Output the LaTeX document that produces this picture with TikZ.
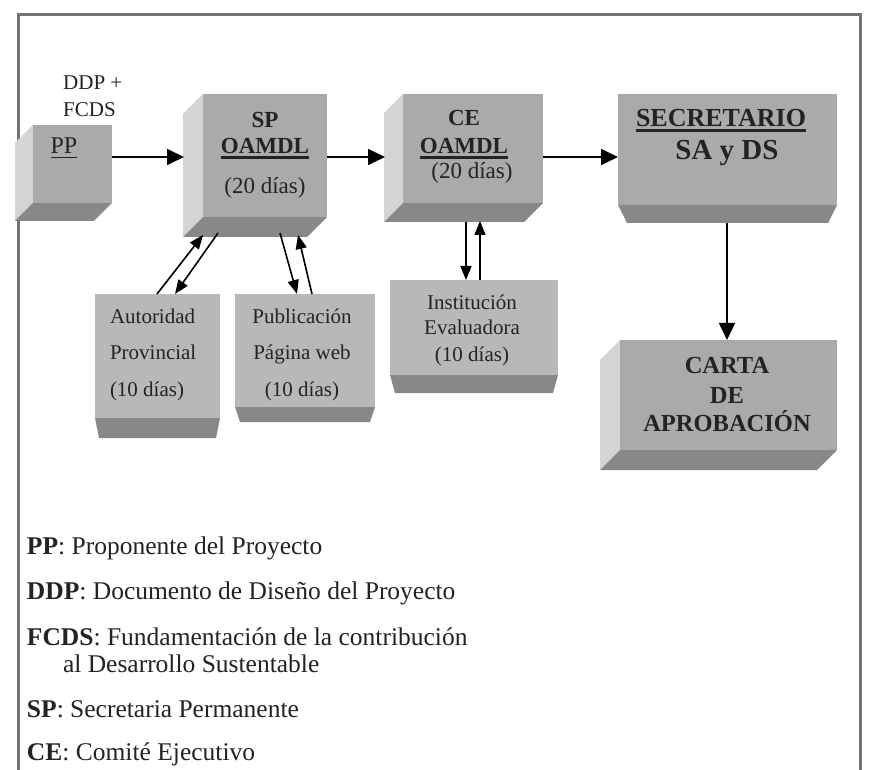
\documentclass[tikz,border=0pt]{standalone}
\usepackage{fontspec}
\setmainfont{Liberation Serif}
\usetikzlibrary{arrows.meta,calc}
\definecolor{frontc}{RGB}{170,170,170}
\definecolor{lowc}{RGB}{184,184,184}
\definecolor{sidec}{RGB}{212,212,212}
\definecolor{botc}{RGB}{136,136,136}
\definecolor{textc}{RGB}{35,35,35}
\definecolor{framec}{RGB}{115,115,115}
\newcommand\cubebox[7]{%
 \fill[sidec] (#2,#3) -- (#2-#6,#3+#6) -- (#2-#6,#5+#6) -- (#2,#5) -- cycle;
 \fill[botc] (#2,#5) -- (#4,#5) -- (#4-#6,#5+#6) -- (#2-#6,#5+#6) -- cycle;
 \node[face, fill=#7, minimum width={#4-#2}, minimum height={#5-#3}, anchor=north west] (#1) at (#2,#3) {};}
\newcommand\trapbox[8]{%
 \fill[botc] (#2,#5) -- (#4,#5) -- (#4-#7,#5+#6) -- (#2+#7,#5+#6) -- cycle;
 \node[face, fill=#8, minimum width={#4-#2}, minimum height={#5-#3}, anchor=north west] (#1) at (#2,#3) {};}
\tikzset{
 face/.style={inner sep=0, outer sep=0, draw=none},
 txt/.style={inner sep=0, outer sep=0, text=textc, text height=0.7em, text depth=0.2em, yshift=-5pt},
 boxtxt/.style={txt, font=\fontsize{23}{27}\selectfont},
 lowtxt/.style={txt, font=\fontsize{21}{25}\selectfont},
 leg/.style={txt, anchor=west, font=\fontsize{25.5}{30}\selectfont},
 ulline/.style={textc, line width=2.2pt},
 arr/.style={-{Triangle[length=17pt,width=16pt]}, line width=1.6pt, black},
 sarr/.style={-{Triangle[length=14pt,width=11pt]}, line width=1.6pt, black},
}
\begin{document}
\begin{tikzpicture}[x=1pt,y=-1pt]
\useasboundingbox (0,0) rectangle (871,770);
\fill[white] (0,0) rectangle (871,770);
\draw[framec, line width=3pt] (18,770) -- (18,15) -- (860,15) -- (860,770);
% boxes
\cubebox{pp}{33}{125}{112}{203}{18}{frontc}
\cubebox{sp}{203}{94}{327}{217}{20}{frontc}
\cubebox{ce}{403}{94}{543}{203}{19}{frontc}
\trapbox{sec}{618}{94}{837}{205}{18}{9}{frontc}
\cubebox{carta}{620}{340}{837}{450}{20}{frontc}
\trapbox{aut}{95}{294}{220}{418}{20}{4}{lowc}
\trapbox{pub}{235}{294}{375}{407}{15}{5}{lowc}
\trapbox{ins}{390}{280}{558}{375}{18}{5}{lowc}
% texts
\node[inner sep=0, text=textc, align=left, anchor=west, font=\fontsize{21}{27}\selectfont] (ddp) at (63,96) {DDP +\\FCDS};
\node[txt, font=\fontsize{24}{28}\selectfont] (ppt) at (64,146) {PP};
\draw[ulline, line width=1.6pt] ($(ppt.base west)+(0,4)$) -- ($(ppt.base east)+(0,4)$);
\node[boxtxt, font=\bfseries\fontsize{23}{27}\selectfont] (sp1) at (265,120) {SP};
\node[boxtxt, font=\bfseries\fontsize{23}{27}\selectfont] (sp2) at (265,146) {OAMDL};
\draw[ulline] ($(sp2.base west)+(0,4)$) -- ($(sp2.base east)+(0,4)$);
\node[boxtxt] (sp3) at (265,186) {(20 días)};
\node[boxtxt, font=\bfseries\fontsize{23}{27}\selectfont] (ce1) at (464,118) {CE};
\node[boxtxt, font=\bfseries\fontsize{23}{27}\selectfont] (ce2) at (464,146) {OAMDL};
\draw[ulline] ($(ce2.base west)+(0,4)$) -- ($(ce2.base east)+(0,4)$);
\node[boxtxt] (ce3) at (472,171) {(20 días)};
\node[txt, font=\bfseries\fontsize{26}{30}\selectfont] (sec1) at (721,119) {SECRETARIO};
\draw[ulline] ($(sec1.base west)+(0,4)$) -- ($(sec1.base east)+(0,4)$);
\node[txt, font=\bfseries\fontsize{29}{34}\selectfont] (sec2) at (727,152) {SA y DS};
\node[txt, font=\bfseries\fontsize{24.5}{29}\selectfont] (c1) at (727,366) {CARTA};
\node[txt, font=\bfseries\fontsize{24.5}{29}\selectfont] (c2) at (727,396) {DE};
\node[txt, font=\bfseries\fontsize{24.5}{29}\selectfont] (c3) at (727,424) {APROBACIÓN};
\node[lowtxt, anchor=west] (a1) at (110,316) {Autoridad};
\node[lowtxt, anchor=west] (a2) at (110,352) {Provincial};
\node[lowtxt, anchor=west] (a3) at (110,389) {(10 días)};
\node[lowtxt] (p1) at (302,316) {Publicación};
\node[lowtxt] (p2) at (302,352) {Página web};
\node[lowtxt] (p3) at (302,389) {(10 días)};
\node[lowtxt] (i1) at (472,302) {Institución};
\node[lowtxt] (i2) at (472,327) {Evaluadora};
\node[lowtxt] (i3) at (472,354) {(10 días)};
% legend
\node[leg] (l1) at (27,547) {\textbf{PP}: Proponente del Proyecto};
\node[leg] (l2) at (27,592) {\textbf{DDP}: Documento de Diseño del Proyecto};
\node[leg] (l3) at (27,638) {\textbf{FCDS}: Fundamentación de la contribución};
\node[leg] (l4) at (63,665) {al Desarrollo Sustentable};
\node[leg] (l5) at (27,710) {\textbf{SP}: Secretaria Permanente};
\node[leg] (l6) at (27,753) {\textbf{CE}: Comité Ejecutivo};
% connector end points on drawn faces
\coordinate (spL) at (184,157);
\coordinate (ceL) at (385,157);
\coordinate (secL) at (618,157);
\coordinate (secB) at (727,223);
\coordinate (spB1) at (203,235);
\coordinate (spB2) at (218,233);
\coordinate (spB3) at (280,233);
\coordinate (spB4) at (298,235);
\coordinate (ceB1) at (466,222);
\coordinate (ceB2) at (480,221);
% connectors
\draw[arr] (pp.east |- spL) -- (spL);
\draw[arr] (sp.east |- ceL) -- (ceL);
\draw[arr] (ce.east |- secL) -- (secL);
\draw[arr] (secB) -- (carta.north -| secB);
\draw[sarr] ($(aut.north west)+(62,0)$) -- (spB1);
\draw[sarr] (spB2) -- ($(aut.north west)+(80,0)$);
\draw[sarr] (spB3) -- ($(pub.north west)+(62,0)$);
\draw[sarr] ($(pub.north west)+(77,0)$) -- (spB4);
\draw[sarr] (ceB1) -- ($(ins.north west)+(76,0)$);
\draw[sarr] ($(ins.north west)+(90,0)$) -- (ceB2);
\end{tikzpicture}
\end{document}
